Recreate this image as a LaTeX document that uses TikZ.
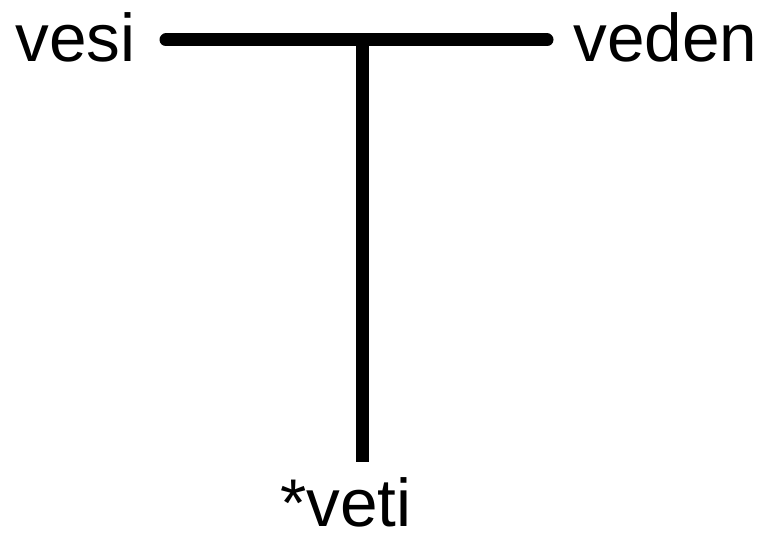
\documentclass[tikz,border=0pt]{standalone}
\usepackage{fontspec}
\setmainfont{Liberation Sans}

\begin{document}
\begin{tikzpicture}[x=0.5pt,y=-0.5pt,
  word/.style={anchor=base west, inner sep=0pt, font=\fontsize{33.75}{40}\selectfont},
  bar/.style={line width=6.5pt}]
  \useasboundingbox (0,0) rectangle (763,534);
  \node[word] (vesi) at (15,62) {vesi};
  \node[word] (veden) at (573,62) {veden};
  \node[word] (veti) at (280,526) {*veti};
  \coordinate (left) at (166,40);
  \coordinate (right) at (547,40);
  \coordinate (joint) at (362,40);
  \coordinate (foot) at (362,462);
  \draw[bar, line cap=round] (left) -- (right);
  \draw[bar] (joint) -- (foot);
\end{tikzpicture}
\end{document}
